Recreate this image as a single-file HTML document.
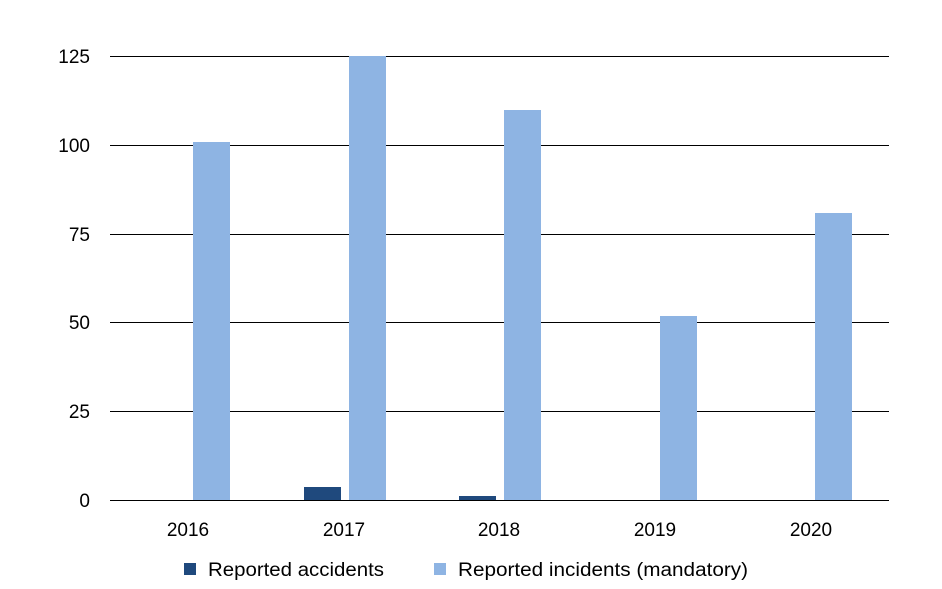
<!DOCTYPE html>
<html><head><style>
body{margin:0;background:#fff;}
svg text{font-family:"Liberation Sans",sans-serif;fill:#000;}
</style></head><body>
<svg width="942" height="584" xmlns="http://www.w3.org/2000/svg">
<g stroke="#000" stroke-width="1">
<line x1="110" x2="889" y1="56.5" y2="56.5"/>
<line x1="110" x2="889" y1="145.5" y2="145.5"/>
<line x1="110" x2="889" y1="234.5" y2="234.5"/>
<line x1="110" x2="889" y1="322.5" y2="322.5"/>
<line x1="110" x2="889" y1="411.5" y2="411.5"/>
</g>
<g fill="#8eb4e3">
<rect x="193" y="142" width="37" height="358"/>
<rect x="349" y="56" width="37" height="444"/>
<rect x="504" y="110" width="37" height="390"/>
<rect x="660" y="316" width="37" height="184"/>
<rect x="815" y="213" width="37" height="287"/>
</g>
<g fill="#1f497d">
<rect x="304" y="487" width="37" height="13"/>
<rect x="459" y="496" width="37" height="4"/>
</g>
<line x1="110" x2="889" y1="500.5" y2="500.5" stroke="#000"/>
<g font-size="19" text-anchor="end">
<text x="90" y="63">125</text>
<text x="90" y="152">100</text>
<text x="90" y="241">75</text>
<text x="90" y="329">50</text>
<text x="90" y="418">25</text>
<text x="90" y="507">0</text>
</g>
<g font-size="19" text-anchor="middle">
<text x="188" y="536">2016</text>
<text x="344" y="536">2017</text>
<text x="499" y="536">2018</text>
<text x="655" y="536">2019</text>
<text x="811" y="536">2020</text>
</g>
<rect x="184" y="563" width="12" height="12" fill="#1f497d"/>
<text x="208" y="576" font-size="19" textLength="176" lengthAdjust="spacingAndGlyphs">Reported accidents</text>
<rect x="434" y="563" width="12" height="12" fill="#8eb4e3"/>
<text x="458" y="576" font-size="19" textLength="290" lengthAdjust="spacingAndGlyphs">Reported incidents (mandatory)</text>
</svg>
</body></html>
